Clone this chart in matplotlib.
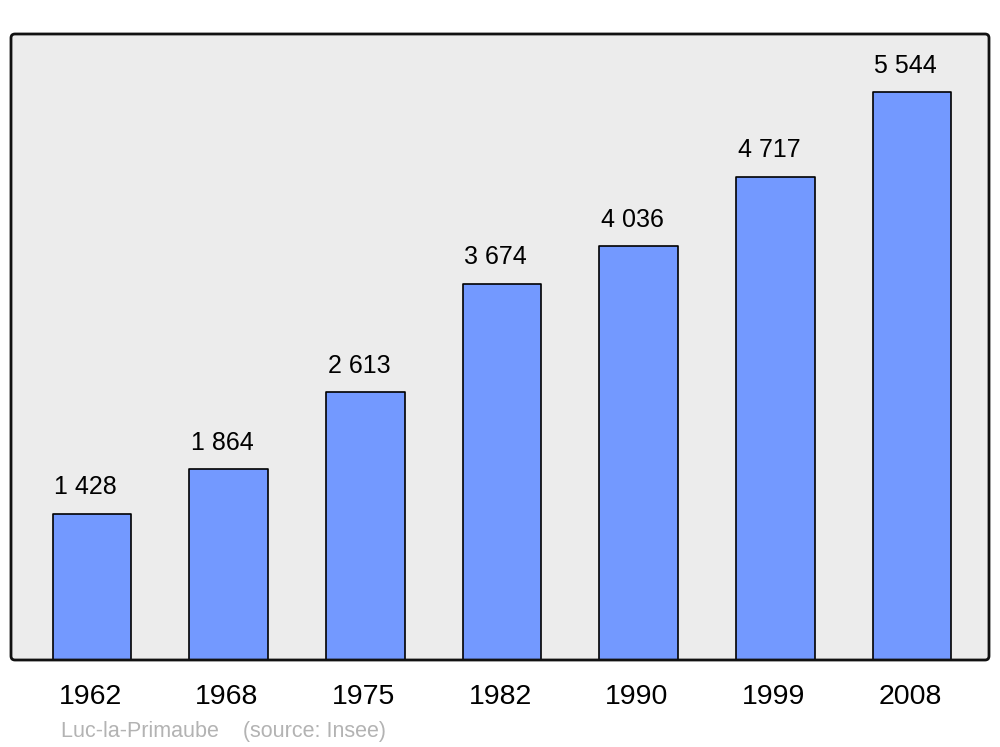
import matplotlib
matplotlib.use("Agg")
import matplotlib.pyplot as plt
from matplotlib.patches import FancyBboxPatch
from matplotlib.transforms import IdentityTransform, ScaledTranslation

plt.rcParams['font.family'] = ['Liberation Sans', 'DejaVu Sans']

years = ['1962', '1968', '1975', '1982', '1990', '1999', '2008']
population = [1428, 1864, 2613, 3674, 4036, 4717, 5544]
value_labels = ['1 428', '1 864', '2 613', '3 674', '4 036', '4 717', '5 544']

fig = plt.figure(figsize=(10, 7.47), dpi=100)
ax = fig.add_axes([0.011, 87 / 747, 0.978, 626 / 747])
ax.set_facecolor('#ececec')

x = range(len(years))
bars = ax.bar(x, population, width=0.575, color='#7399ff', edgecolor='black',
              linewidth=1.2, zorder=2)
for b in bars:
    b.set_joinstyle('round')

for xi, v, lab in zip(x, population, value_labels):
    ax.annotate(lab, (xi, v), xytext=(-4.5, 14), textcoords='offset points',
                ha='center', va='baseline', fontsize=18)

ax.set_xlim(-0.593, 6.563)
ax.set_ylim(0, 6110)
ax.set_xticks(list(x))
ax.set_xticklabels(years, fontsize=20.5)
ax.tick_params(axis='x', length=0, pad=17.5)
shift = ScaledTranslation(-2 / 100, 0, fig.dpi_scale_trans)
for t in ax.get_xticklabels():
    t.set_transform(t.get_transform() + shift)
ax.set_yticks([])
for s in ax.spines.values():
    s.set_visible(False)

# rounded frame drawn in pixel coordinates
frame = FancyBboxPatch((11, 87), 978, 626, boxstyle='round,pad=0,rounding_size=4',
                       transform=IdentityTransform(), facecolor='none',
                       edgecolor='#111111', linewidth=2, zorder=5)
fig.patches.append(frame)

fig.text(0.061, 1 - 731 / 747, 'Luc-la-Primaube    (source: Insee)',
         color='#b3b3b3', fontsize=15.5, va='center', ha='left')

fig.savefig('out.png', dpi=100)
